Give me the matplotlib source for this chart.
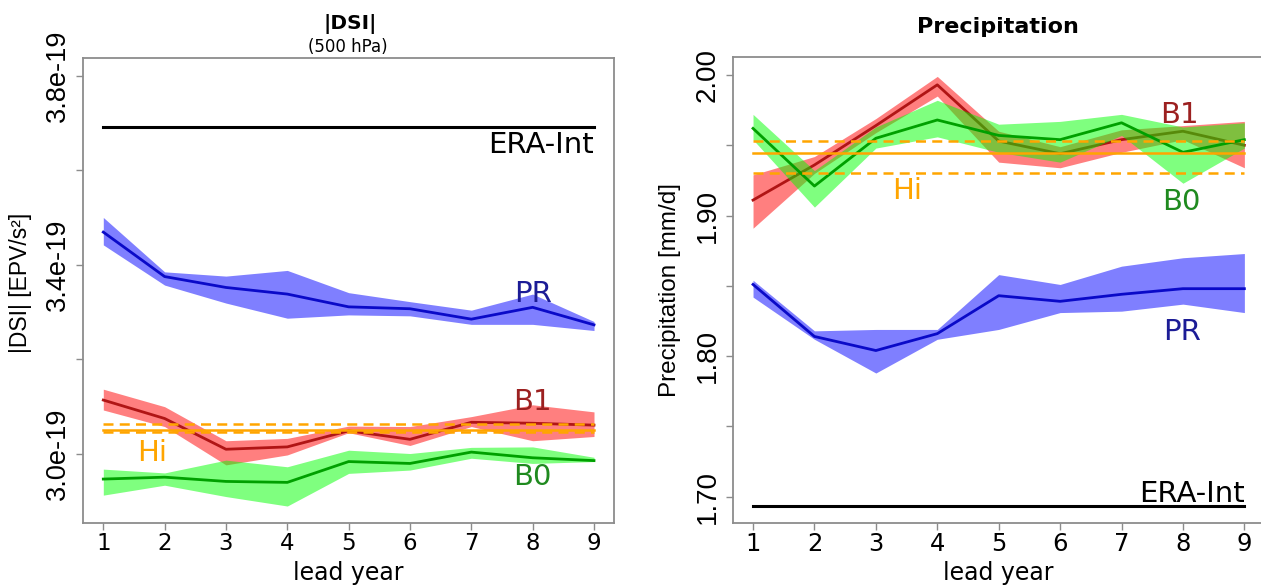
import matplotlib
matplotlib.use("Agg")
import matplotlib.pyplot as plt

# ---------------- data ----------------
lead_years = [1, 2, 3, 4, 5, 6, 7, 8, 9]

# |DSI| (units of 1e-19 EPV/s^2)
dsi_pr    = [3.469, 3.375, 3.352, 3.338, 3.311, 3.307, 3.285, 3.310, 3.273]
dsi_pr_hi = [3.500, 3.385, 3.376, 3.388, 3.341, 3.322, 3.304, 3.338, 3.280]
dsi_pr_lo = [3.442, 3.357, 3.319, 3.287, 3.294, 3.292, 3.274, 3.274, 3.261]
dsi_b1    = [3.114, 3.075, 3.010, 3.015, 3.049, 3.031, 3.067, 3.065, 3.061]
dsi_b1_hi = [3.137, 3.100, 3.028, 3.033, 3.059, 3.058, 3.079, 3.104, 3.089]
dsi_b1_lo = [3.093, 3.058, 2.977, 2.998, 3.045, 3.018, 3.058, 3.028, 3.037]
dsi_b0    = [2.947, 2.951, 2.942, 2.940, 2.984, 2.980, 3.004, 2.992, 2.986]
dsi_b0_hi = [2.968, 2.960, 2.987, 2.973, 3.008, 3.001, 3.014, 3.015, 2.993]
dsi_b0_lo = [2.913, 2.934, 2.910, 2.890, 2.959, 2.966, 2.991, 2.980, 2.984]
dsi_era = 3.691
dsi_hi = 3.051
dsi_hi_lo = 3.046
dsi_hi_up = 3.063
dsi_ticks = [3.0, 3.2, 3.4, 3.6, 3.8]
dsi_ticklabels = ["3.0e-19", "", "3.4e-19", "", "3.8e-19"]

# Precipitation (mm/d)
pr_pr    = [1.851, 1.814, 1.804, 1.816, 1.843, 1.839, 1.844, 1.848, 1.848]
pr_pr_hi = [1.854, 1.818, 1.819, 1.819, 1.858, 1.851, 1.864, 1.870, 1.873]
pr_pr_lo = [1.842, 1.812, 1.788, 1.812, 1.819, 1.831, 1.832, 1.837, 1.831]
pr_b1    = [1.911, 1.936, 1.964, 1.993, 1.953, 1.944, 1.954, 1.960, 1.950]
pr_b1_hi = [1.929, 1.942, 1.969, 1.999, 1.960, 1.949, 1.961, 1.964, 1.967]
pr_b1_lo = [1.891, 1.930, 1.959, 1.985, 1.938, 1.934, 1.945, 1.954, 1.934]
pr_b0    = [1.962, 1.921, 1.955, 1.968, 1.957, 1.954, 1.966, 1.945, 1.954]
pr_b0_hi = [1.972, 1.932, 1.963, 1.982, 1.965, 1.967, 1.972, 1.963, 1.966]
pr_b0_lo = [1.954, 1.906, 1.948, 1.956, 1.945, 1.938, 1.957, 1.923, 1.948]
pr_era = 1.6935
pr_hi = 1.9443
pr_hi_lo = 1.9305
pr_hi_up = 1.9533
pr_ticks = [1.70, 1.75, 1.80, 1.85, 1.90, 1.95, 2.00]
pr_ticklabels = ["1.70", "", "1.80", "", "1.90", "", "2.00"]

# ---------------- style ----------------
W, H = 1261, 588
fig = plt.figure(figsize=(W / 100, H / 100), dpi=100)
fig.patch.set_facecolor("white")

C_PR_BAND, C_PR_LINE, C_PR_TXT = "#0000ff", "#0a0ac8", "#1c1c96"
C_B1_BAND, C_B1_LINE, C_B1_TXT = "#ff0000", "#b01515", "#9c2020"
C_B0_BAND, C_B0_LINE, C_B0_TXT = "#00ff00", "#00a000", "#1f8a1f"
C_HI = "#ffa500"
SPINE = "#8c8c8c"


def px_axes(left, top, right, bottom):
    return fig.add_axes([left / W, 1 - bottom / H, (right - left) / W, (bottom - top) / H])


def style_axes(ax, ticks, ticklabels, xfs, yfs, ypad):
    for s in ax.spines.values():
        s.set_color(SPINE)
        s.set_linewidth(1.3)
    ax.set_xlim(0.674, 9.326)
    ax.set_xticks(lead_years)
    ax.set_xticklabels([str(v) for v in lead_years], fontsize=xfs, family="DejaVu Sans")
    ax.set_yticks(ticks)
    ax.set_yticklabels(ticklabels, fontsize=yfs, family="Liberation Sans",
                       rotation=90, va="center")
    ax.tick_params(axis="x", direction="out", length=5, width=1, color=SPINE, pad=1.5)
    ax.tick_params(axis="y", direction="out", length=5, width=1, color=SPINE, pad=ypad)


def draw_panel(ax, era, hi, hi_lo, hi_up, pr, pr_hi_, pr_lo_, b1, b1_hi, b1_lo, b0, b0_hi, b0_lo):
    ax.fill_between(lead_years, pr_lo_, pr_hi_, color=C_PR_BAND, alpha=0.5, lw=0, zorder=2)
    ax.plot(lead_years, pr, color=C_PR_LINE, lw=2.0, zorder=3)
    ax.fill_between(lead_years, b1_lo, b1_hi, color=C_B1_BAND, alpha=0.5, lw=0, zorder=2)
    ax.plot(lead_years, b1, color=C_B1_LINE, lw=2.0, zorder=3)
    ax.fill_between(lead_years, b0_lo, b0_hi, color=C_B0_BAND, alpha=0.5, lw=0, zorder=4)
    ax.plot(lead_years, b0, color=C_B0_LINE, lw=2.0, zorder=5)
    ax.plot([1, 9], [hi, hi], color=C_HI, lw=1.8, zorder=6)
    ax.plot([1, 9], [hi_lo, hi_lo], color=C_HI, lw=1.8, ls=(0, (4, 2.5)), zorder=6)
    ax.plot([1, 9], [hi_up, hi_up], color=C_HI, lw=1.8, ls=(0, (4, 2.5)), zorder=6)
    ax.plot([1, 9], [era, era], color="black", lw=2.2, zorder=6)


# ---------------- left panel: |DSI| ----------------
ax1 = px_axes(83.3, 58, 614, 523.3)
draw_panel(ax1, dsi_era, dsi_hi, dsi_hi_lo, dsi_hi_up,
           dsi_pr, dsi_pr_hi, dsi_pr_lo, dsi_b1, dsi_b1_hi, dsi_b1_lo,
           dsi_b0, dsi_b0_hi, dsi_b0_lo)
ax1.set_ylim(2.8535, 3.837)
style_axes(ax1, dsi_ticks, dsi_ticklabels, 16.5, 19.5, 4)

lab_fs = 21
ax1.text(9, 3.636, "ERA-Int", ha="right", va="baseline", fontsize=lab_fs, color="black")
ax1.text(8.0, 3.322, "PR", ha="center", va="baseline", fontsize=lab_fs, color=C_PR_TXT)
ax1.text(8.0, 3.093, "B1", ha="center", va="baseline", fontsize=lab_fs, color=C_B1_TXT)
ax1.text(1.8, 2.986, "Hi", ha="center", va="baseline", fontsize=lab_fs, color=C_HI)
ax1.text(8.0, 2.934, "B0", ha="center", va="baseline", fontsize=lab_fs, color=C_B0_TXT)

fig.text(350 / W, 1 - 24 / H, "|DSI|", ha="center", va="center", fontsize=14.5, fontweight="bold")
fig.text(348 / W, 1 - 47 / H, "(500 hPa)", ha="center", va="center", fontsize=12)
fig.text(348 / W, 1 - 580 / H, "lead year", ha="center", va="baseline", fontsize=17)
fig.text(21 / W, 1 - 283 / H, "|DSI| [EPV/s²]", ha="center", va="center", rotation=90,
         fontsize=16.5, family="Liberation Sans")

# ---------------- right panel: Precipitation ----------------
ax2 = px_axes(733, 57, 1264.4, 523.3)
draw_panel(ax2, pr_era, pr_hi, pr_hi_lo, pr_hi_up,
           pr_pr, pr_pr_hi, pr_pr_lo, pr_b1, pr_b1_hi, pr_b1_lo,
           pr_b0, pr_b0_hi, pr_b0_lo)
ax2.set_ylim(1.6811, 2.0128)
style_axes(ax2, pr_ticks, pr_ticklabels, 17.5, 20, 4)

ax2.text(9, 1.6965, "ERA-Int", ha="right", va="baseline", fontsize=lab_fs, color="black")
ax2.text(7.95, 1.9656, "B1", ha="center", va="baseline", fontsize=lab_fs, color=C_B1_TXT)
ax2.text(3.51, 1.9118, "Hi", ha="center", va="baseline", fontsize=lab_fs, color=C_HI)
ax2.text(7.98, 1.904, "B0", ha="center", va="baseline", fontsize=lab_fs, color=C_B0_TXT)
ax2.text(7.98, 1.8115, "PR", ha="center", va="baseline", fontsize=lab_fs, color=C_PR_TXT)

fig.text(998 / W, 1 - 27 / H, "Precipitation", ha="center", va="center", fontsize=16, fontweight="bold")
fig.text(998 / W, 1 - 580 / H, "lead year", ha="center", va="baseline", fontsize=17)
fig.text(670 / W, 1 - 290 / H, "Precipitation [mm/d]", ha="center", va="center", rotation=90,
         fontsize=17.5, family="Liberation Sans")

fig.savefig("out.png", dpi=100, facecolor="white")
